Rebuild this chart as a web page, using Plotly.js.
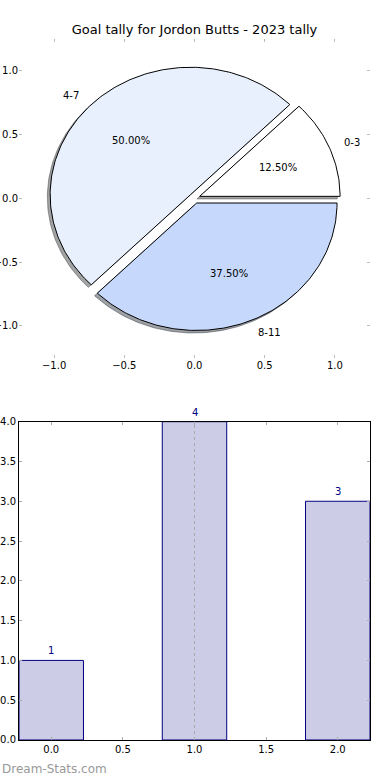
<!DOCTYPE html>
<html>
<head>
<meta charset="utf-8">
<script src="https://cdn.plot.ly/plotly-3.0.1.min.js"></script>
<style>html,body{margin:0;padding:0;background:#fff;}#chart{width:390px;height:780px;}</style>
</head>
<body>
<div id="chart"></div>
<script>
// ---- data ----
var categories = ['0-3', '4-7', '8-11'];
var goalCounts = [1, 4, 3];
var barPositions = [0, 1, 2];
var pieTicks = [-1.0, -0.5, 0.0, 0.5, 1.0];
var barXTicks = [0.0, 0.5, 1.0, 1.5, 2.0];
var barYTicks = [0.0, 0.5, 1.0, 1.5, 2.0, 2.5, 3.0, 3.5, 4.0];
var markerLineX = [1.0];
var titleText = 'Goal tally for Jordon Butts - 2023 tally';
var watermark = 'Dream-Stats.com';

// ---- styles ----
var FONT = 'DejaVu Sans, Verdana, sans-serif';
var wedgeColors = ['#ffffff', '#e8f0fe', '#c6d9fc'];
var explode = 0.04, shadowOff = 0.02, labelDist = 1.1, pctDist = 0.6;

function fmt(v) { var s = Math.abs(v).toFixed(1); return (v < 0 ? '\u2212' : '') + s; }
function hexToRgb(h) { return [parseInt(h.substr(1,2),16), parseInt(h.substr(3,2),16), parseInt(h.substr(5,2),16)]; }

var total = goalCounts.reduce(function(a,b){return a+b;}, 0);
var traces = [], shadowTraces = [], wedgeTraces = [], annotations = [];
var start = 0;
goalCounts.forEach(function(v, i) {
  var span = v / total * 360;
  var a0 = start, a1 = start + span, mid = (a0 + a1) / 2 * Math.PI / 180;
  var cx = explode * Math.cos(mid), cy = explode * Math.sin(mid);
  var xs = [cx], ys = [cy];
  var n = Math.max(2, Math.ceil(span));
  for (var k = 0; k <= n; k++) {
    var a = (a0 + span * k / n) * Math.PI / 180;
    xs.push(cx + Math.cos(a)); ys.push(cy + Math.sin(a));
  }
  xs.push(cx); ys.push(cy);
  var rgb = hexToRgb(wedgeColors[i]);
  var sc = 'rgba(' + Math.round(rgb[0]*0.3) + ',' + Math.round(rgb[1]*0.3) + ',' + Math.round(rgb[2]*0.3) + ',0.5)';
  shadowTraces.push({type:'scatter', mode:'lines', x: xs.map(function(q){return q - shadowOff;}), y: ys.map(function(q){return q - shadowOff;}),
    fill:'toself', fillcolor: sc, line:{color: sc, width:1}, xaxis:'x', yaxis:'y', hoverinfo:'skip', showlegend:false});
  wedgeTraces.push({type:'scatter', mode:'lines', x: xs, y: ys, fill:'toself', fillcolor: wedgeColors[i],
    line:{color:'#000000', width:1}, xaxis:'x', yaxis:'y', hoverinfo:'skip', showlegend:false});
  var lx = cx + labelDist * Math.cos(mid), ly = cy + labelDist * Math.sin(mid);
  annotations.push({xref:'x', yref:'y', x: lx, y: ly, text: categories[i], showarrow:false,
    xanchor: lx > 0 ? 'left' : 'right', yanchor:'middle', font:{family:FONT, size:10, color:'#000'}});
  var px = cx + pctDist * Math.cos(mid), py = cy + pctDist * Math.sin(mid);
  annotations.push({xref:'x', yref:'y', x: px, y: py, text: (v/total*100).toFixed(2) + '%', showarrow:false,
    xanchor:'center', yanchor:'middle', font:{family:FONT, size:10, color:'#000'}});
  start = a1;
});
traces = shadowTraces.concat(wedgeTraces);

traces.push({type:'bar', x: barPositions, y: goalCounts, width: 0.45, xaxis:'x2', yaxis:'y2',
  marker:{color:'#ccccE6', line:{color:'#000080', width:1}}, hoverinfo:'skip', showlegend:false});

barPositions.forEach(function(x, i) {
  annotations.push({xref:'x2', yref:'y2', x: x, y: goalCounts[i], text: String(goalCounts[i]), showarrow:false,
    xanchor:'center', yanchor:'bottom', yshift: 2, font:{family:FONT, size:10, color:'#000080'}});
});

annotations.push({xref:'paper', yref:'paper', x: -19/351, y: -0.0414, xanchor:'left', yanchor:'middle',
  text: watermark, showarrow:false, font:{family:FONT, size:12, color:'#999999'}});

var shapes = markerLineX.map(function(x){
  return {type:'line', xref:'x2', yref:'y2 domain', x0:x, x1:x, y0:0, y1:1, line:{color:'#aaaaaa', width:1, dash:'dot'}};
});

var tickFont = {family:FONT, size:10, color:'#000'};
var layout = {
  width:390, height:780, margin:{l:19, r:20, t:39, b:40}, paper_bgcolor:'#fff', plot_bgcolor:'rgba(0,0,0,0)',
  showlegend:false,
  title:{text:titleText, font:{family:FONT, size:13, color:'#000'}, x:0.5, xref:'paper', y:(780-29.5)/780, yref:'container', yanchor:'middle'},
  xaxis:{domain:[0,1], anchor:'y', range:[-1.25,1.25], showgrid:false, zeroline:false, showline:false,
    ticks:'inside', ticklen:3, tickcolor:'#bbbbbb', mirror:'ticks', tickvals:pieTicks, ticktext:pieTicks.map(fmt), tickfont:tickFont, fixedrange:true},
  yaxis:{domain:[0.5455,1], anchor:'x', range:[-1.25,1.25], showgrid:false, zeroline:false, showline:false,
    ticks:'inside', ticklen:3, tickcolor:'#bbbbbb', mirror:'ticks', tickvals:pieTicks, ticktext:pieTicks.map(fmt), tickfont:tickFont, fixedrange:true},
  xaxis2:{domain:[0,1], anchor:'y2', range:[-0.225,2.225], showgrid:false, zeroline:false, showline:true, linecolor:'#000', linewidth:1,
    ticks:'inside', ticklen:3, tickcolor:'#aaaaaa', mirror:'ticks', tickvals:barXTicks, ticktext:barXTicks.map(fmt), tickfont:tickFont, fixedrange:true},
  yaxis2:{domain:[0,0.4541], anchor:'x2', range:[0,4], showgrid:false, zeroline:false, showline:true, linecolor:'#000', linewidth:1,
    ticks:'inside', ticklen:3, tickcolor:'#aaaaaa', mirror:'ticks', tickvals:barYTicks, ticktext:barYTicks.map(fmt), tickfont:tickFont, fixedrange:true},
  annotations: annotations,
  shapes: shapes
};
Plotly.newPlot('chart', traces, layout, {displayModeBar:false, staticPlot:true});
</script>
</body>
</html>
